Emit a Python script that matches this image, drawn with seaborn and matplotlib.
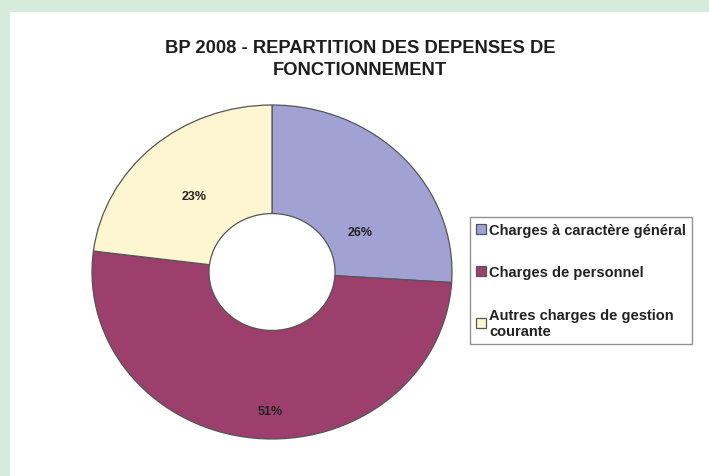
import matplotlib
matplotlib.use("Agg")
import matplotlib.pyplot as plt
import seaborn as sns

categories = ["Charges à caractère général", "Charges de personnel",
              "Autres charges de gestion\ncourante"]
shares = [26, 51, 23]
colors = ["#a2a1d4", "#9c3f6c", "#fdf6d0"]

sns.set_style("white")
plt.rcParams["font.family"] = ["Liberation Sans", "DejaVu Sans"]

fig = plt.figure(figsize=(7.09, 4.77), dpi=100, facecolor="#d6ebdc")
# white panel inside the green frame
fig.patches.append(plt.Rectangle((10 / 709, 0), 1, 1 - 13 / 477, transform=fig.transFigure,
                                 facecolor="white", edgecolor="none", zorder=-5))

ax = fig.add_axes([92 / 709, 37 / 477, 360 / 709, 334 / 477])
ax.patch.set_alpha(0)
wedges, _, autotexts = ax.pie(shares, colors=colors, startangle=90, counterclock=False,
                              radius=1, autopct="%d%%", pctdistance=0.62,
                              wedgeprops=dict(width=0.65, edgecolor="#555555", linewidth=0.9),
                              textprops=dict(fontsize=9, fontweight="bold", color="#222222"))
ax.set_aspect("auto")
ax.set_xlim(-1, 1)
ax.set_ylim(-1, 1)
ax.axis("off")

# nudge the percentage labels to where the original puts them
label_pos = [(0.49, 0.24), (-0.01, -0.83), (-0.43, 0.455)]
for t, p in zip(autotexts, label_pos):
    t.set_position(p)

fig.text(0.508, 0.876, "BP 2008 - REPARTITION DES DEPENSES DE\nFONCTIONNEMENT",
         ha="center", va="center", fontsize=13.2, fontweight="bold", color="#1e1e1e",
         linespacing=1.4)

leg = fig.legend(wedges, categories, loc="upper left", bbox_to_anchor=(470 / 709, 1 - 218 / 477),
                 borderaxespad=0, frameon=True, fancybox=False, edgecolor="#777777",
                 handlelength=0.7, handleheight=0.7, handletextpad=0.2, labelspacing=1.95,
                 borderpad=0.4, prop=dict(size=10.5, weight="bold"))
leg.get_frame().set_linewidth(1.0)
for t in leg.get_texts():
    t.set_color("#222222")

fig.savefig("out.png", dpi=100, facecolor=fig.get_facecolor())
